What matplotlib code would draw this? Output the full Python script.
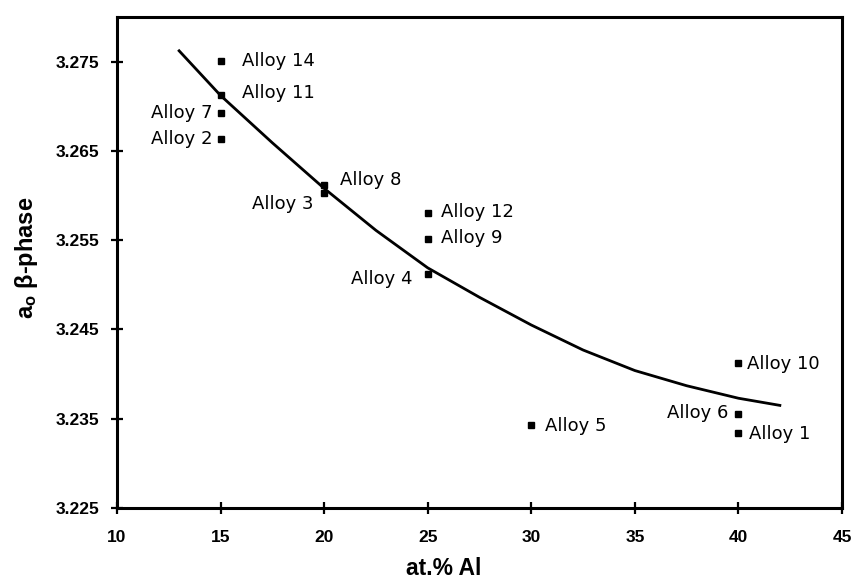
import numpy as np
import matplotlib
matplotlib.use('Agg')
import matplotlib.pyplot as plt

plt.rcParams['font.family'] = ['Liberation Sans', 'DejaVu Sans']
plt.rcParams['mathtext.fontset'] = 'custom'
plt.rcParams['mathtext.bf'] = 'Liberation Sans:bold'
plt.rcParams['mathtext.rm'] = 'Liberation Sans'

# measured lattice parameter of the beta phase for each alloy
alloy = ['Alloy 14', 'Alloy 11', 'Alloy 7', 'Alloy 2', 'Alloy 8', 'Alloy 3',
         'Alloy 12', 'Alloy 9', 'Alloy 4', 'Alloy 5', 'Alloy 6', 'Alloy 1',
         'Alloy 10']
al_pct = [15, 15, 15, 15, 20, 20, 25, 25, 25, 30, 40, 40, 40]
a0 = [3.2751, 3.2712, 3.2692, 3.2663, 3.2612, 3.2603,
      3.2580, 3.2551, 3.2512, 3.2343, 3.2355, 3.2334, 3.2413]

# trend line through the data
trend_x = [13, 15, 17.5, 20, 22.5, 25, 27.5, 30, 32.5, 35, 37.5, 40, 42]
trend_y = [3.2762, 3.2712, 3.2659, 3.2608, 3.2561, 3.2519, 3.2486,
           3.2455, 3.2427, 3.2404, 3.2387, 3.2373, 3.2365]

# label placement (pixel offset, alignment)
offsets = [(21, 0, 'left'), (21, 2, 'left'), (-8, 0, 'right'), (-8, 0, 'right'),
           (16, 5, 'left'), (-11, -11, 'right'), (13, 1, 'left'), (13, 1, 'left'),
           (-15, -5, 'right'), (14, -1, 'left'), (-10, 1, 'right'),
           (11, -1, 'left'), (9, -1, 'left')]

fig = plt.figure(figsize=(8.57, 5.82), dpi=100)
ax = fig.add_axes([0.1365, 0.127, 0.846, 0.844])

ax.plot(trend_x, trend_y, color='black', lw=2)
ax.plot(al_pct, a0, ls='none', marker='s', ms=5, color='black')

for name, x, y, (dx, dy, ha) in zip(alloy, al_pct, a0, offsets):
    ax.annotate(name, (x, y), xytext=(dx, dy), textcoords='offset pixels',
                ha=ha, va='center', fontsize=13, family='DejaVu Sans')

ax.set_xlim(10, 45)
ax.set_ylim(3.225, 3.280)
ax.set_xticks([10, 15, 20, 25, 30, 35, 40, 45])
ax.set_yticks([3.225, 3.235, 3.245, 3.255, 3.265, 3.275])
ax.set_yticklabels(['3.225', '3.235', '3.245', '3.255', '3.265', '3.275'])

for s in ax.spines.values():
    s.set_linewidth(2.2)
ax.tick_params(direction='inout', length=9, width=1.6, labelsize=12.5)
ax.tick_params(axis='y', pad=8)
ax.tick_params(axis='x', pad=11)
for lab in ax.get_xticklabels() + ax.get_yticklabels():
    lab.set_fontweight('bold')

ax.set_xlabel('at.% Al', fontsize=16.5, fontweight='bold')
ax.xaxis.set_label_coords(0.45, -0.1)
ax.set_ylabel(r'$\mathbf{a_o}$ β-phase', fontsize=17, fontweight='bold')
ax.yaxis.set_label_coords(-0.106, 0.51)

fig.savefig('out.png', dpi=100)
